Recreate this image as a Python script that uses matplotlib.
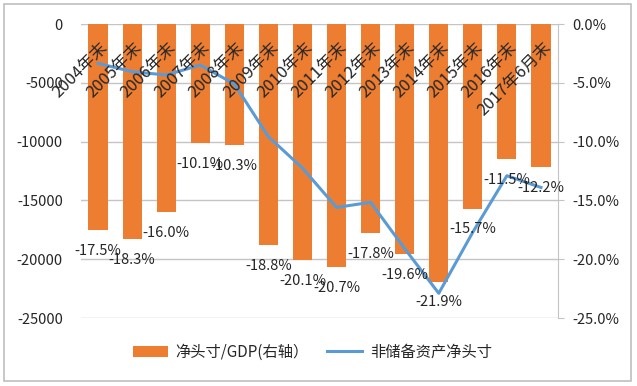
import matplotlib
matplotlib.use('Agg')
import matplotlib.pyplot as plt
from matplotlib.patches import Rectangle

plt.rcParams['font.family'] = ['Noto Sans CJK SC', 'DejaVu Sans']

categories = ['2004年末', '2005年末', '2006年末', '2007年末', '2008年末', '2009年末', '2010年末',
              '2011年末', '2012年末', '2013年末', '2014年末', '2015年末', '2016年末', '2017年6月末']
# 净头寸/GDP, percent (right axis)
ratio = [-17.5, -18.3, -16.0, -10.1, -10.3, -18.8, -20.1, -20.7, -17.8, -19.6, -21.9, -15.7, -11.5, -12.2]
# 非储备资产净头寸 (left axis)
position = [-3350, -4050, -4340, -3490, -5100, -9580, -12250, -15600, -15160, -19100, -22900, -17700, -12900, -13900]

left_ticks = [0, -5000, -10000, -15000, -20000, -25000]
right_ticks = [0, -5, -10, -15, -20, -25]

orange = '#ED7D31'
blue = '#5B9BD5'
grid_c = '#C4C4C4'
txt_c = '#262626'

fig = plt.figure(figsize=(6.37, 3.86), dpi=100)
rect = [81 / 637, 1 - 318 / 386, (558 - 81) / 637, (318 - 24) / 386]
ax_bar = fig.add_axes(rect)
ax_line = ax_bar.twinx()

x = list(range(len(categories)))

bars = ax_bar.bar(x, ratio, width=0.56, color=orange, zorder=2)
ax_bar.set_ylim(-25, 0)
ax_bar.set_xlim(-0.5, len(categories) - 0.5)
ax_bar.yaxis.tick_right()
ax_bar.set_yticks(right_ticks)
ax_bar.set_yticklabels(['0.0%' if t == 0 else '%.1f%%' % t for t in right_ticks])
ax_bar.tick_params(axis='y', length=4, color=grid_c, labelsize=10.5, labelcolor=txt_c, pad=6)
ax_bar.set_xticks([])
ax_bar.grid(axis='y', color=grid_c, lw=1)
ax_bar.set_axisbelow(True)
for s in ['left', 'top', 'bottom']:
    ax_bar.spines[s].set_visible(False)
ax_bar.spines['right'].set_color(grid_c)

line, = ax_line.plot(x, position, color=blue, lw=2.2, zorder=3)
ax_line.set_ylim(-25000, 0)
ax_line.yaxis.tick_left()
ax_line.set_yticks(left_ticks)
ax_line.set_yticklabels([str(t) for t in left_ticks])
ax_line.tick_params(axis='y', length=0, labelsize=10.5, labelcolor=txt_c, pad=13)
ax_line.set_xticks([])
for s in ax_line.spines.values():
    s.set_visible(False)

# category labels sitting under the zero line
for i, cat in enumerate(categories):
    ax_line.annotate(cat, xy=(i, 0), xytext=(1, -11), textcoords='offset points',
                     rotation=45, rotation_mode='anchor', ha='right', va='top',
                     fontsize=12, color=txt_c, zorder=5)

# data labels below the bar ends
for i, v in enumerate(ratio):
    ax_line.annotate('%.1f%%' % v, xy=(i, v), xycoords=ax_bar.transData,
                     xytext=(0, -15), textcoords='offset points',
                     ha='center', va='center', fontsize=10.5, color=txt_c, zorder=5)

fig.legend([bars, line], ['净头寸/GDP(右轴）', '非储备资产净头寸'], loc='center',
           bbox_to_anchor=(0.49, 0.088), ncol=2, frameon=False, fontsize=11,
           handlelength=2.3, columnspacing=1.2, handletextpad=0.5, labelcolor=txt_c)

fig.patches.append(Rectangle((4 / 637, 5 / 386), 627 / 637, 377 / 386, transform=fig.transFigure,
                             fill=False, edgecolor='#BFBFBF', lw=1.2))

fig.savefig('out.png', dpi=100)
